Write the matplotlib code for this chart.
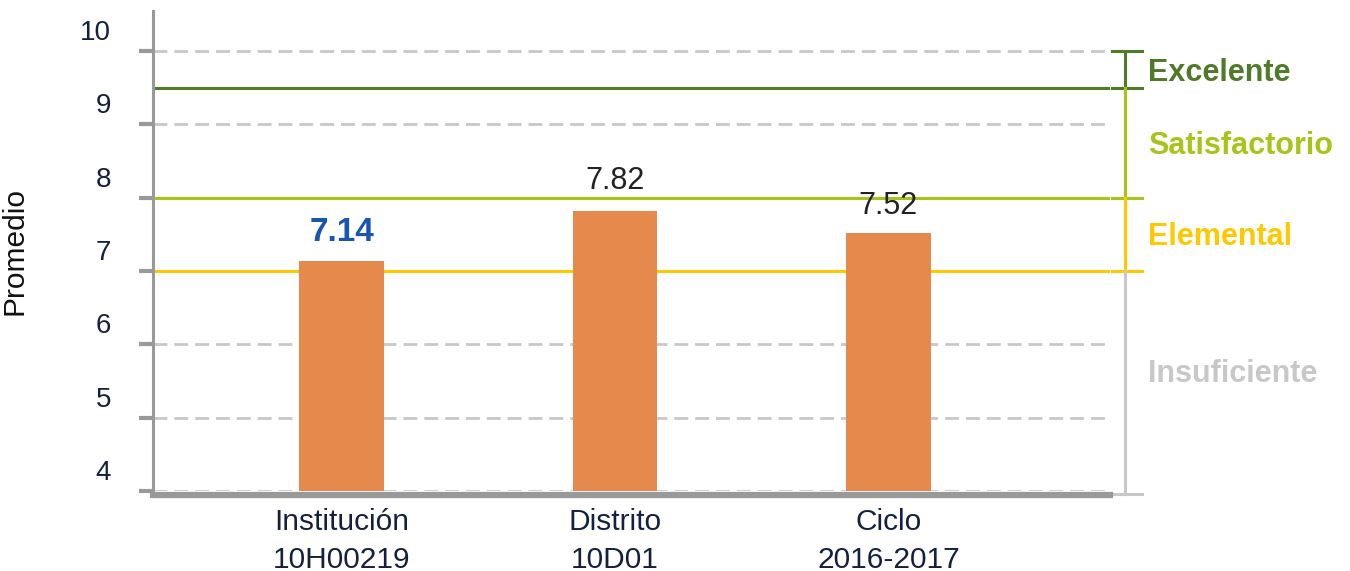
import matplotlib.pyplot as plt
import matplotlib.transforms as mtransforms

categorias = ['Institución\n10H00219', 'Distrito\n10D01', 'Ciclo\n2016-2017']
promedios = [7.14, 7.82, 7.52]
etiquetas = ['7.14', '7.82', '7.52']
niveles = ['Excelente', 'Satisfactorio', 'Elemental', 'Insuficiente']
limites = [10, 9.5, 8, 7, 4]  # tramos de cada nivel
colores_nivel = ['#4f7a2a', '#a8c418', '#ffc800', '#c8c8c8']
yticks = [4, 5, 6, 7, 8, 9, 10]

plt.rcParams['font.family'] = ['Liberation Sans', 'DejaVu Sans']

fig = plt.figure(figsize=(13.5, 5.71), dpi=100)
ax = fig.add_axes([153/1350, 1 - 491/571, (1110-153)/1350, (491-11)/571])

x = list(range(len(categorias)))
ax.bar(x, promedios, width=0.31, color='#e6894d', zorder=3)
ax.set_xlim(-0.691, 2.811)
ax.set_ylim(4, 10 + 40/73.2)

# grid punteado
for v in yticks:
    ax.axhline(v, color='#c8c8c8', lw=2, ls=(0, (5, 2.5)), zorder=1)

# lineas de nivel
for v, c in zip(limites[1:4], colores_nivel[:3]):
    ax.axhline(v, color=c, lw=2.2, zorder=2)

# corchete a la derecha
trans = mtransforms.blended_transform_factory(ax.transAxes, ax.transData)
xb = (1125-153)/957
x0, x1 = (1112-153)/957, (1142-153)/957
ypos_txt = [9.70, 8.71, 7.47, 5.60]
for i, (nom, c) in enumerate(zip(niveles, colores_nivel)):
    top, bot = limites[i], limites[i+1]
    if i == 3:
        bot = 4 - 3/73.2
    ax.plot([xb, xb], [top, bot], color=c, lw=2.2, transform=trans, clip_on=False)
    ax.plot([x0, x1], [bot, bot], color=c, lw=2.2, transform=trans, clip_on=False)
    if i == 0:
        ax.plot([x0, x1], [top, top], color=c, lw=2.2, transform=trans, clip_on=False)
    ax.text((1148-153)/957, ypos_txt[i], nom, color=c, fontsize=22, fontweight='bold',
            transform=trans, va='center', ha='left', clip_on=False)

# etiquetas de valores
ax.text(x[0], promedios[0] + 0.18, etiquetas[0], color='#1a56b0', fontsize=24,
        fontweight='bold', ha='center', va='bottom')
ax.text(x[1], promedios[1] + 0.2, etiquetas[1], color='#222222', fontsize=22,
        ha='center', va='bottom')
ax.text(x[2], promedios[2] + 0.16, etiquetas[2], color='#222222', fontsize=22,
        ha='center', va='bottom')

ax.tick_params(axis='y', length=10, width=3, color='#999999', pad=20,
               labelsize=20, labelcolor='#14203f')
ax.set_yticks(yticks)
ax.set_yticklabels([str(v) for v in yticks])
offset = mtransforms.ScaledTranslation(0, 0.21, fig.dpi_scale_trans)
for lab in ax.get_yticklabels():
    lab.set_transform(lab.get_transform() + offset)

# etiquetas de categorias (texto propio para controlar el interlineado)
ax.set_xticks(x)
ax.set_xticklabels([])
ax.tick_params(axis='x', length=0)
transx = mtransforms.blended_transform_factory(ax.transData, ax.transAxes)
for xi, cat in zip(x, categorias):
    ax.text(xi, -0.035, cat, transform=transx, ha='center', va='top', fontsize=21.5,
            color='#14203f', linespacing=1.45, clip_on=False)

ax.set_ylabel('Promedio', fontsize=21.5, color='#111111')
ax.yaxis.set_label_coords((29-153)/957, 0.5)

ax.spines['top'].set_visible(False)
ax.spines['right'].set_visible(False)
ax.spines['left'].set_color('#999999')
ax.spines['left'].set_linewidth(2.2)
ax.spines['bottom'].set_color('#999999')
ax.spines['bottom'].set_linewidth(4.5)
ax.spines['bottom'].set_position(('outward', 3))

plt.savefig('out.png', dpi=100)
